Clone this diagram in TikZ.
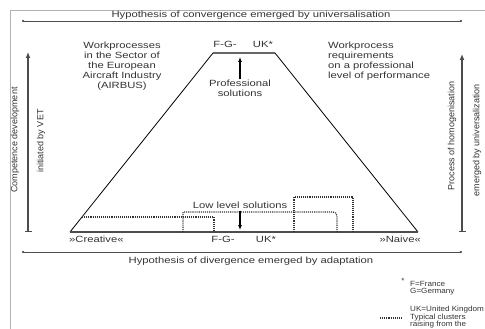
\documentclass[tikz,border=0pt]{standalone}
\usepackage{fontspec}
\setmainfont{Liberation Sans}
\newfontfamily\widesans{Liberation Sans}[FakeStretch=1.25]
\newfontfamily\legendsans{Liberation Sans}[FakeStretch=1.08]
\usetikzlibrary{arrows.meta}
\begin{document}
\begin{tikzpicture}[x=1pt,y=-1pt,
    lbl/.style={font=\widesans\fontsize{9}{10}\selectfont, inner sep=0pt, text=black!80},
    side/.style={font=\fontsize{9}{10}\selectfont, inner sep=0pt, text=black!80, rotate=90},
    small/.style={font=\legendsans\fontsize{7.5}{7.6}\selectfont, inner sep=0pt, text=black!80},
    axisline/.style={line width=0.6pt, draw=black!70, {Circle[length=2.2pt]}-{Circle[length=2.2pt]}},
    trend/.style={line width=1.3pt, draw=black!70, {Bar[width=7pt]}-{Latex[length=6pt,width=5pt]}},
    cluster/.style={line width=1.2pt, draw=black!80, dash pattern=on 1.1pt off 1pt},
    solution/.style={line width=1.1pt, -{Latex[length=5pt,width=4pt]}}]
    \useasboundingbox (0,0) rectangle (485,329);
    \clip (0,0) rectangle (485,329);
    % frame
    \draw[black!30, line width=0.8pt] (10,10) rectangle (495,340);
    % hypotheses
    \coordinate (convL) at (22,21);
    \coordinate (convR) at (462,21);
    \coordinate (divL) at (22,252);
    \coordinate (divR) at (462,252);
    \draw[axisline] (convL) -- (convR);
    \draw[axisline] (divL) -- (divR);
    \node[lbl] (conv) at (251,15) {Hypothesis of convergence emerged by universalisation};
    \node[lbl] (div) at (251,261) {Hypothesis of divergence emerged by adaptation};
    % side processes
    \coordinate (vetB) at (28,232);
    \coordinate (vetT) at (28,52);
    \coordinate (homB) at (462,232);
    \coordinate (homT) at (462,54);
    \draw[trend] (vetB) -- (vetT);
    \draw[trend] (homB) -- (homT);
    \node[side] (comp) at (15,140) {Competence development};
    \node[side] (vet) at (41,141) {initiated by VET};
    \node[side] (homog) at (452,136) {Process of homogenisation};
    \node[side] (univ) at (477,140) {emerged by universalization};
    % trapezoid
    \coordinate (tl) at (213,53);
    \coordinate (tr) at (275,53);
    \coordinate (bl) at (70,232);
    \coordinate (br) at (418,232);
    \draw[line width=0.8pt] (tl) -- (bl);
    \draw[line width=0.8pt] (tr) -- (br);
    \draw[line width=2pt, black!60] (tl) -- (tr);
    \draw[line width=1.5pt, black!70] (bl) -- (br);
    % clusters
    \draw[cluster] (82,217) -- (214,217) -- (214,232);
    \draw[cluster] (183,232) -- (183,212) -- (333,212)
        to[out=0,in=90] (337,216) -- (337,232);
    \draw[cluster] (294,232) -- (294,197) -- (353,197) -- (353,232);
    % labels in the trapezoid
    \node[lbl, align=center] (airbus) at (122,66)
        {Workprocesses\\in the Sector of\\the European\\Aircraft Industry\\(AIRBUS)};
    \node[lbl, align=left, anchor=west] (perf) at (328,61)
        {Workprocess\\requirements\\on a professional\\level of performance};
    \node[lbl] (fgT) at (225,44) {F-G-};
    \node[lbl] (ukT) at (263,44) {UK*};
    \node[lbl] (fgB) at (223,239) {F-G-};
    \node[lbl] (ukB) at (266,239) {UK*};
    \node[lbl, align=center] (prof) at (240,88) {Professional\\solutions};
    \coordinate (profT) at (240,57);
    \draw[solution] (prof.north) -- (profT);
    \node[lbl] (low) at (240,205) {Low level solutions};
    \coordinate (lowB) at (240,230);
    \draw[solution] ([yshift=-2pt]low.south) -- (lowB);
    \node[lbl, anchor=west] (creat) at (69,239) {»Creative«};
    \node[lbl, anchor=east] (naive) at (421,239) {»Naive«};
    % legend
    \node[small] (star) at (403,281) {*};
    \node[small, align=left, anchor=north west] (fg) at (410,281) {F=France\\G=Germany};
    \coordinate (dotL) at (380,318);
    \coordinate (dotR) at (402,318);
    \draw[cluster] (dotL) -- (dotR);
    \node[small, align=left, anchor=north west] (uk) at (410,306)
        {UK=United Kingdom\\Typical clusters\\raising from the};
\end{tikzpicture}
\end{document}
